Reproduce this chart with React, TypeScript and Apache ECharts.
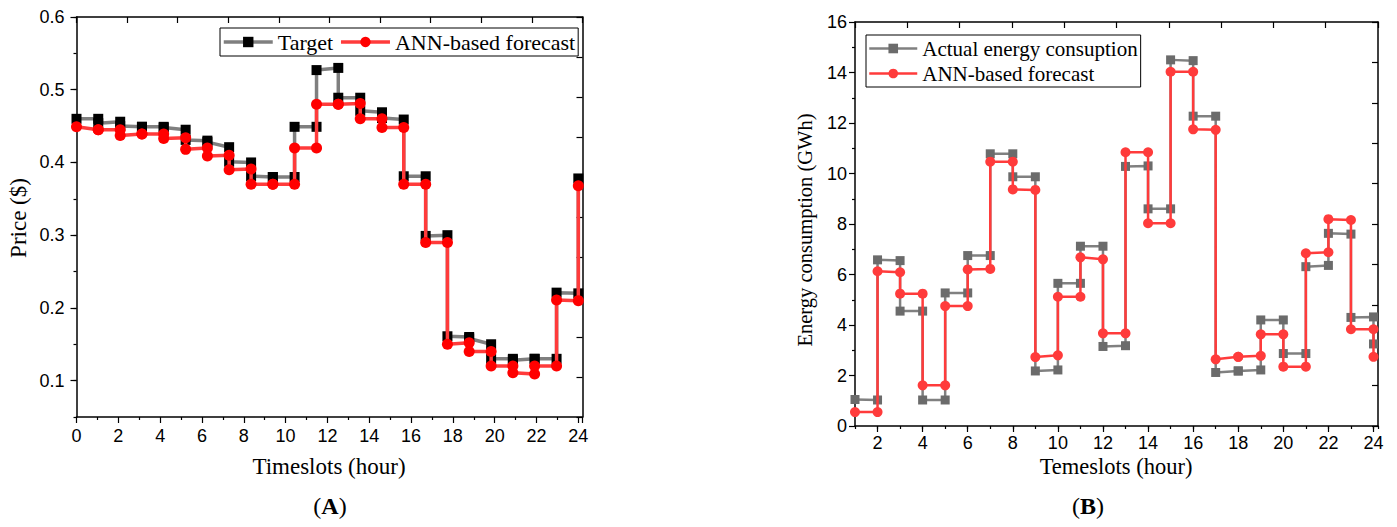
import React, { useEffect, useRef } from "react";
import * as echarts from "echarts";

// ---------- Data: (A) price ----------
const priceSlotX = [0, 1.04, 2.09, 3.13, 4.17, 5.22, 6.26, 7.3, 8.35, 9.39, 10.43, 11.48, 12.52, 13.57, 14.61, 15.65, 16.7, 17.74, 18.78, 19.83, 20.87, 21.91, 22.96, 24];
const priceTargetStart = [0.46, 0.454, 0.45, 0.449, 0.448, 0.431, 0.428, 0.401, 0.381, 0.38, 0.449, 0.527, 0.489, 0.471, 0.461, 0.381, 0.299, 0.161, 0.158, 0.13, 0.128, 0.13, 0.221];
const priceTargetEnd = [0.46, 0.456, 0.449, 0.449, 0.445, 0.43, 0.421, 0.4, 0.38, 0.38, 0.449, 0.53, 0.489, 0.469, 0.459, 0.381, 0.3, 0.16, 0.15, 0.13, 0.13, 0.13, 0.22];
const priceTargetLast = 0.378;
const priceForecastStart = [0.449, 0.445, 0.437, 0.439, 0.433, 0.418, 0.409, 0.39, 0.37, 0.37, 0.42, 0.48, 0.48, 0.46, 0.448, 0.37, 0.29, 0.15, 0.14, 0.12, 0.111, 0.12, 0.211];
const priceForecastEnd = [0.445, 0.445, 0.439, 0.439, 0.434, 0.42, 0.41, 0.391, 0.37, 0.37, 0.42, 0.48, 0.481, 0.46, 0.448, 0.37, 0.29, 0.152, 0.14, 0.12, 0.109, 0.12, 0.21];
const priceForecastLast = 0.368;
const priceMajorTicks = [0.1, 0.2, 0.3, 0.4, 0.5, 0.6];

// ---------- Data: (B) energy ----------
const energySlotX = [1, 2, 3, 4, 5, 6, 7, 8, 9, 10, 11, 12, 13, 14, 15, 16, 17, 18, 19, 20, 21, 22, 23, 24];
const energyActualStart = [1.05, 6.58, 4.55, 1.03, 5.27, 6.75, 10.78, 9.87, 2.18, 5.65, 7.12, 3.15, 10.28, 8.6, 14.5, 12.27, 2.12, 2.18, 4.2, 2.87, 6.31, 7.63, 4.3];
const energyActualEnd = [1.03, 6.55, 4.55, 1.03, 5.27, 6.75, 10.78, 9.87, 2.22, 5.65, 7.12, 3.18, 10.3, 8.6, 14.47, 12.27, 2.18, 2.22, 4.2, 2.87, 6.36, 7.6, 4.32];
const energyActualLast = 3.25;
const energyForecastStart = [0.55, 6.13, 5.24, 1.61, 4.75, 6.2, 10.47, 9.37, 2.73, 5.12, 6.68, 3.67, 10.84, 8.03, 14.03, 11.75, 2.64, 2.74, 3.63, 2.35, 6.84, 8.19, 3.83];
const energyForecastEnd = [0.55, 6.09, 5.24, 1.61, 4.75, 6.22, 10.47, 9.35, 2.8, 5.12, 6.6, 3.67, 10.84, 8.03, 14.03, 11.73, 2.74, 2.78, 3.63, 2.35, 6.88, 8.16, 3.83];
const energyForecastLast = 2.74;
const energyMajorXTicks = [2, 4, 6, 8, 10, 12, 14, 16, 18, 20, 22, 24];

function steps(xs: number[], starts: number[], ends: number[], last: number) {
  const pts: number[][] = [];
  for (let i = 0; i < starts.length; i++) {
    pts.push([xs[i], starts[i]]);
    pts.push([xs[i + 1], ends[i]]);
  }
  pts.push([xs[xs.length - 1], last]);
  return pts;
}

const SANS = "'Liberation Sans', Arial, sans-serif";
const SERIF = "'Liberation Serif', 'Times New Roman', serif";
const BLACK = "#000";

const axisLineStyle = { show: true, onZero: false, lineStyle: { color: BLACK, width: 1.5 } };

export default function App() {
  const ref = useRef<HTMLDivElement>(null);
  useEffect(() => {
    if (!ref.current) return;
    const chart = echarts.init(ref.current, undefined, { renderer: "svg" });
    const intLabel = (v: number) => (Math.abs(v - Math.round(v)) < 1e-6 ? String(Math.round(v)) : "");
    const evenLabel = (v: number) => {
      const r = Math.round(v);
      return Math.abs(v - r) < 1e-6 && r % 2 === 0 ? String(r) : "";
    };
    const priceLabel = (v: number) => {
      const k = Math.round(v * 100);
      return Math.abs(v * 100 - k) < 1e-4 && k % 10 === 0 ? (k / 100).toFixed(1) : "";
    };
    const option: any = {
      animation: false,
      backgroundColor: "#fff",
      grid: [
        { left: 76.5, top: 17, width: 506, height: 400 },
        { left: 855, top: 22, width: 523, height: 404 },
      ],
      xAxis: [
        {
          gridIndex: 0, type: "value", position: "bottom", min: 0, max: 24.2, interval: 2,
          axisLine: axisLineStyle,
          axisTick: { show: true, length: 6, lineStyle: { color: BLACK, width: 1.2 } },
          minorTick: { show: true, splitNumber: 2, length: 3, lineStyle: { color: BLACK, width: 1.2 } },
          splitLine: { show: false },
          axisLabel: { formatter: intLabel, color: BLACK, fontFamily: SANS, fontSize: 18, margin: 10 },
        },
        {
          gridIndex: 0, type: "value", position: "top", min: 0, max: 24.2, interval: 2.42,
          axisLine: axisLineStyle,
          axisTick: { show: true, inside: true, length: 6, lineStyle: { color: BLACK, width: 1.2 } },
          splitLine: { show: false }, axisLabel: { show: false },
        },
        {
          gridIndex: 1, type: "value", position: "bottom", min: 1, max: 24.2, interval: 1,
          axisLine: axisLineStyle,
          axisTick: { show: true, length: 3, lineStyle: { color: BLACK, width: 1.2 } },
          splitLine: { show: false },
          axisLabel: { formatter: evenLabel, color: BLACK, fontFamily: SANS, fontSize: 18, margin: 8 },
        },
        {
          gridIndex: 1, type: "value", position: "top", min: 1, max: 24.2, interval: 2.32,
          axisLine: axisLineStyle,
          axisTick: { show: true, inside: true, length: 6, lineStyle: { color: BLACK, width: 1.2 } },
          splitLine: { show: false }, axisLabel: { show: false },
        },
        {
          gridIndex: 1, type: "value", position: "bottom", min: 1, max: 24.2, interval: 1,
          axisLine: { show: false, onZero: false },
          axisTick: { show: true, length: 6, customValues: energyMajorXTicks, lineStyle: { color: BLACK, width: 1.2 } },
          splitLine: { show: false }, axisLabel: { show: false },
        },
      ],
      yAxis: [
        {
          gridIndex: 0, type: "value", position: "left", min: 0.05, max: 0.6, interval: 0.05,
          axisLine: axisLineStyle,
          axisTick: { show: true, length: 3, lineStyle: { color: BLACK, width: 1.2 } },
          splitLine: { show: false },
          axisLabel: { formatter: priceLabel, color: BLACK, fontFamily: SANS, fontSize: 18, margin: 12 },
        },
        {
          gridIndex: 0, type: "value", position: "right", min: 0.05, max: 0.6, interval: 0.055,
          axisLine: axisLineStyle,
          axisTick: { show: true, inside: true, length: 6, lineStyle: { color: BLACK, width: 1.2 } },
          splitLine: { show: false }, axisLabel: { show: false },
        },
        {
          gridIndex: 0, type: "value", position: "left", min: 0.05, max: 0.6, interval: 0.05,
          axisLine: { show: false, onZero: false },
          axisTick: { show: true, length: 6, customValues: priceMajorTicks, lineStyle: { color: BLACK, width: 1.2 } },
          splitLine: { show: false }, axisLabel: { show: false },
        },
        {
          gridIndex: 1, type: "value", position: "left", min: 0, max: 16, interval: 2,
          axisLine: axisLineStyle,
          axisTick: { show: true, length: 6, lineStyle: { color: BLACK, width: 1.2 } },
          minorTick: { show: true, splitNumber: 2, length: 3, lineStyle: { color: BLACK, width: 1.2 } },
          splitLine: { show: false },
          axisLabel: { color: BLACK, fontFamily: SANS, fontSize: 18, margin: 8 },
        },
        {
          gridIndex: 1, type: "value", position: "right", min: 0, max: 16, interval: 1.6,
          axisLine: axisLineStyle,
          axisTick: { show: true, inside: true, length: 6, lineStyle: { color: BLACK, width: 1.2 } },
          splitLine: { show: false }, axisLabel: { show: false },
        },
      ],
      legend: [
        {
          orient: "horizontal", left: 220, top: 28, padding: [3, 3, 3, 2], itemGap: 6,
          itemWidth: 49, itemHeight: 13,
          borderColor: BLACK, borderWidth: 1, backgroundColor: "#fff",
          textStyle: { fontFamily: SERIF, fontSize: 22, color: BLACK },
          data: [
            { name: "Target", itemStyle: { color: BLACK }, lineStyle: { color: "#7f7f7f", width: 3.5 } },
            { name: "ANN-based forecast", itemStyle: { color: "#ff0000" }, lineStyle: { color: "#ff3b3b", width: 3.5 } },
          ],
        },
        {
          orient: "vertical", left: 866, top: 35, padding: [3, 3, 3, 2], itemGap: 4,
          itemWidth: 48, itemHeight: 12,
          borderColor: BLACK, borderWidth: 1, backgroundColor: "#fff",
          textStyle: { fontFamily: SERIF, fontSize: 21, color: BLACK },
          data: [
            { name: "Actual energy consuption", itemStyle: { color: "#6b6b6b" }, lineStyle: { color: "#808080", width: 2.5 } },
            { name: "ANN-based forecast", itemStyle: { color: "#ff3b3b" }, lineStyle: { color: "#ff3b3b", width: 2.5 } },
          ],
        },
      ],
      series: [
        {
          name: "Target", type: "line", xAxisIndex: 0, yAxisIndex: 0, z: 2, showAllSymbol: true,
          data: steps(priceSlotX, priceTargetStart, priceTargetEnd, priceTargetLast),
          symbol: "rect", symbolSize: 10,
          itemStyle: { color: BLACK },
          lineStyle: { color: "#7f7f7f", width: 3.5 },
        },
        {
          name: "ANN-based forecast", type: "line", xAxisIndex: 0, yAxisIndex: 0, z: 3, showAllSymbol: true,
          data: steps(priceSlotX, priceForecastStart, priceForecastEnd, priceForecastLast),
          symbol: "circle", symbolSize: 11,
          itemStyle: { color: "#ff0000" },
          lineStyle: { color: "#ff3b3b", width: 3.5 },
        },
        {
          name: "Actual energy consuption", type: "line", xAxisIndex: 2, yAxisIndex: 3, z: 2, showAllSymbol: true,
          data: steps(energySlotX, energyActualStart, energyActualEnd, energyActualLast),
          symbol: "rect", symbolSize: 9,
          itemStyle: { color: "#6b6b6b" },
          lineStyle: { color: "#808080", width: 2.5 },
        },
        {
          name: "ANN-based forecast", type: "line", xAxisIndex: 2, yAxisIndex: 3, z: 3, showAllSymbol: true,
          data: steps(energySlotX, energyForecastStart, energyForecastEnd, energyForecastLast),
          symbol: "circle", symbolSize: 10,
          itemStyle: { color: "#ff3b3b" },
          lineStyle: { color: "#ff3b3b", width: 2.5 },
        },
      ],
      graphic: [
        {
          type: "text", x: 18, y: 218, rotation: Math.PI / 2,
          style: { text: "Price ($)", fontFamily: SERIF, fontSize: 23, fill: BLACK, align: "center", verticalAlign: "middle" },
        },
        {
          type: "text", x: 329, y: 466,
          style: { text: "Timeslots (hour)", fontFamily: SERIF, fontSize: 23, fill: BLACK, align: "center", verticalAlign: "middle" },
        },
        {
          type: "text", x: 805, y: 230, rotation: Math.PI / 2,
          style: { text: "Energy consumption (GWh)", fontFamily: SERIF, fontSize: 20.5, fill: BLACK, align: "center", verticalAlign: "middle" },
        },
        {
          type: "text", x: 1116, y: 466,
          style: { text: "Temeslots (hour)", fontFamily: SERIF, fontSize: 22.5, fill: BLACK, align: "center", verticalAlign: "middle" },
        },
        {
          type: "text", x: 330, y: 506,
          style: {
            text: "({b|A})", fontFamily: SERIF, fontSize: 24, fill: BLACK, align: "center", verticalAlign: "middle",
            rich: { b: { fontFamily: SERIF, fontSize: 24, fontWeight: "bold", fill: BLACK } },
          },
        },
        {
          type: "text", x: 1088, y: 506,
          style: {
            text: "({b|B})", fontFamily: SERIF, fontSize: 24, fill: BLACK, align: "center", verticalAlign: "middle",
            rich: { b: { fontFamily: SERIF, fontSize: 24, fontWeight: "bold", fill: BLACK } },
          },
        },
      ],
    };
    chart.setOption(option);
    return () => chart.dispose();
  }, []);
  return (
    <div
      ref={ref}
      style={{ position: "absolute", left: 0, top: 0, width: 1397, height: 527, background: "#fff" }}
    />
  );
}
